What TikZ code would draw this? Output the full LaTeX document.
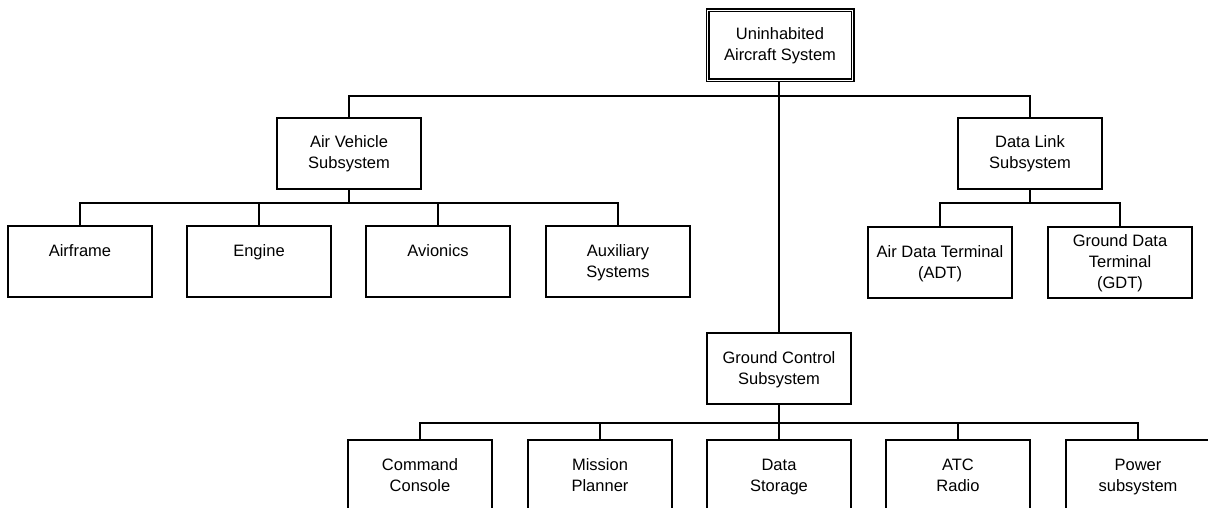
\documentclass[tikz,border=0pt]{standalone}
\usepackage{fontspec}
\setmainfont{Liberation Sans}
% fixed-height line strut so every label sits the same way in its box
\newcommand\ls{\rule[-4pt]{0pt}{18pt}}
\begin{document}
\begin{tikzpicture}[x=1pt,y=-1pt,
  box/.style={draw,line width=1.5pt,minimum width=144pt,minimum height=71pt,
    inner sep=0pt,align=center,font=\fontsize{16.5}{21}\selectfont},
  rootbox/.style={box,double,line width=1.2pt,double distance=1.6pt,
    minimum width=145pt,minimum height=70pt},
  link/.style={line width=1.5pt},
  trunk/.style={line width=2pt}]
\useasboundingbox (0,0) rectangle (1208,508);
\clip (0,0) rectangle (1208,508);

% root
\node[rootbox] (uas) at (780,45.5) {\ls Uninhabited\\\ls Aircraft System};

% first level
\node[box] (av) at (349,153.5) {\ls Air Vehicle\\\ls Subsystem};
\node[box] (dl) at (1030,153.5) {\ls Data Link\\\ls Subsystem};
\node[box] (gc) at (779,368.5) {\ls Ground Control\\\ls Subsystem};

% air vehicle parts
\node[box] (af)  at (80,261.5)  {\ls Airframe\\\ls};
\node[box] (eng) at (259,261.5) {\ls Engine\\\ls};
\node[box] (avi) at (438,261.5) {\ls Avionics\\\ls};
\node[box] (aux) at (618,261.5) {\ls Auxiliary\\\ls Systems};

% data link parts
\node[box] (adt) at (940,262.5)  {\ls Air Data Terminal\\\ls (ADT)};
\node[box] (gdt) at (1120,262.5) {\ls Ground Data\\\ls Terminal\\\ls (GDT)};

% ground control parts
\node[box] (cc) at (420,475.5)  {\ls Command\\\ls Console};
\node[box] (mp) at (600,475.5)  {\ls Mission\\\ls Planner};
\node[box] (ds) at (779,475.5)  {\ls Data\\\ls Storage};
\node[box] (atc) at (958,475.5) {\ls ATC\\\ls Radio};
\node[box] (pw) at (1138,475.5) {\ls Power\\\ls subsystem};

% bus junctions
\coordinate (topbus) at (779,96);
\coordinate (avbus)  at (349,203);
\coordinate (dlbus)  at (1030,203);
\coordinate (gcbus)  at (779,423);

% root connections
\draw[trunk] (uas.south -| gc.north) -- (gc.north);
\draw[link] (av.north) |- (topbus) -| (dl.north);

% air vehicle branch
\draw[trunk] (av.south) -- (avbus);
\draw[link] (af.north) |- (avbus) -| (aux.north);
\draw[link] (eng.north) -- (eng.north |- avbus);
\draw[link] (avi.north) -- (avi.north |- avbus);

% data link branch
\draw[trunk] (dl.south) -- (dlbus);
\draw[link] (adt.north) |- (dlbus) -| (gdt.north);

% ground control branch
\draw[trunk] (gc.south) -- (gcbus);
\draw[link] (cc.north) |- (gcbus) -| (pw.north);
\draw[link] (mp.north) -- (mp.north |- gcbus);
\draw[link] (ds.north) -- (ds.north |- gcbus);
\draw[link] (atc.north) -- (atc.north |- gcbus);
\end{tikzpicture}
\end{document}
